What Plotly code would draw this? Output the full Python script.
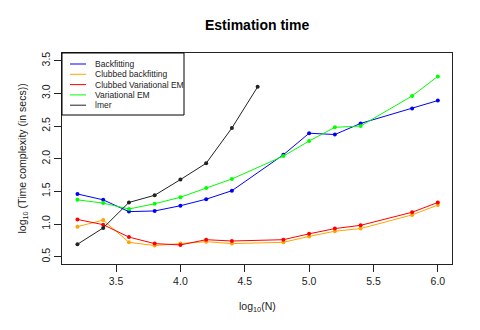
import plotly.graph_objects as go

log_n = [3.2, 3.4, 3.6, 3.8, 4.0, 4.2, 4.4, 4.8, 5.0, 5.2, 5.4, 5.8, 6.0]
log_n_lmer = [3.2, 3.4, 3.6, 3.8, 4.0, 4.2, 4.4, 4.6]

backfitting = [1.46, 1.37, 1.19, 1.20, 1.28, 1.38, 1.51, 2.06, 2.39, 2.37, 2.54, 2.77, 2.89]
clubbed_backfitting = [0.96, 1.06, 0.72, 0.67, 0.70, 0.73, 0.70, 0.72, 0.81, 0.89, 0.93, 1.14, 1.29]
clubbed_vem = [1.07, 0.99, 0.80, 0.70, 0.68, 0.76, 0.74, 0.76, 0.85, 0.93, 0.98, 1.18, 1.33]
variational_em = [1.37, 1.32, 1.23, 1.31, 1.41, 1.55, 1.69, 2.04, 2.27, 2.48, 2.50, 2.96, 3.26]
lmer = [0.69, 0.94, 1.33, 1.44, 1.68, 1.93, 2.47, 3.10]

series_names = ["Backfitting", "Clubbed backfitting", "Clubbed Variational EM",
                "Variational EM", "lmer"]
series_colors = ["#0000FF", "#FFA500", "#FF0000", "#00FF00", "#222222"]
series_x = [log_n, log_n, log_n, log_n, log_n_lmer]
series_y = [backfitting, clubbed_backfitting, clubbed_vem, variational_em, lmer]

FONT = "Liberation Sans, Arial, sans-serif"

fig = go.Figure()
for name, col, xs, ys in zip(series_names, series_colors, series_x, series_y):
    fig.add_trace(go.Scatter(
        x=xs, y=ys, mode="lines+markers", name=name,
        line=dict(color=col, width=1),
        marker=dict(color=col, size=4),
        showlegend=False,
    ))

# R-style legend drawn inside the top-left corner
W, H = 390.0, 211.0
shapes = [dict(type="rect", xref="paper", yref="paper",
               x0=0, x1=122 / W, y0=1 - 62 / H, y1=1,
               line=dict(color="black", width=1), fillcolor="white", layer="above")]
annotations = []
for i, (name, col) in enumerate(zip(series_names, series_colors)):
    py = 11 + i * 10.3
    yy = 1 - py / H
    shapes.append(dict(type="line", xref="paper", yref="paper",
                       x0=8 / W, x1=24 / W, y0=yy, y1=yy,
                       line=dict(color=col, width=1), layer="above"))
    annotations.append(dict(xref="paper", yref="paper", x=31 / W, y=yy,
                            text=name, showarrow=False, xanchor="left",
                            yanchor="middle", font=dict(size=8.5, color="#222", family=FONT)))

annotations.append(dict(xref="paper", yref="paper", x=0.5, y=1, yshift=28,
                        text="<b>Estimation time</b>", showarrow=False,
                        xanchor="center", yanchor="middle",
                        font=dict(size=14, color="black", family=FONT)))
annotations.append(dict(xref="paper", yref="paper", x=0.5, y=0, yshift=-43,
                        text="log<sub>10</sub>(N)", showarrow=False,
                        xanchor="center", yanchor="middle",
                        font=dict(size=10.5, color="#222", family=FONT)))
annotations.append(dict(xref="paper", yref="paper", x=0, y=0.5, xshift=-40,
                        text="log<sub>10</sub> (Time complexity (in secs))",
                        showarrow=False, textangle=-90,
                        xanchor="center", yanchor="middle",
                        font=dict(size=10.5, color="#222", family=FONT)))

axis_common = dict(showgrid=False, zeroline=False, showline=True, mirror=True,
                   linecolor="#222", linewidth=1, ticks="outside", ticklen=7,
                   tickcolor="#222", tickfont=dict(size=10.5, color="#222", family=FONT))

# page body has an 8px default margin, so the figure is sized/offset to compensate
fig.update_layout(
    width=472, height=322,
    margin=dict(l=54, r=28, t=45, b=66),
    paper_bgcolor="white", plot_bgcolor="white",
    xaxis=dict(range=[3.08, 6.11], tickvals=[3.5, 4.0, 4.5, 5.0, 5.5, 6.0],
               ticktext=["3.5", "4.0", "4.5", "5.0", "5.5", "6.0"], **axis_common),
    yaxis=dict(range=[0.388, 3.618], tickvals=[0.5, 1.0, 1.5, 2.0, 2.5, 3.0, 3.5],
               ticktext=["0.5", "1.0", "1.5", "2.0", "2.5", "3.0", "3.5"],
               tickangle=-90, **axis_common),
    shapes=shapes, annotations=annotations,
    showlegend=False,
)

fig.write_html("out.html")
